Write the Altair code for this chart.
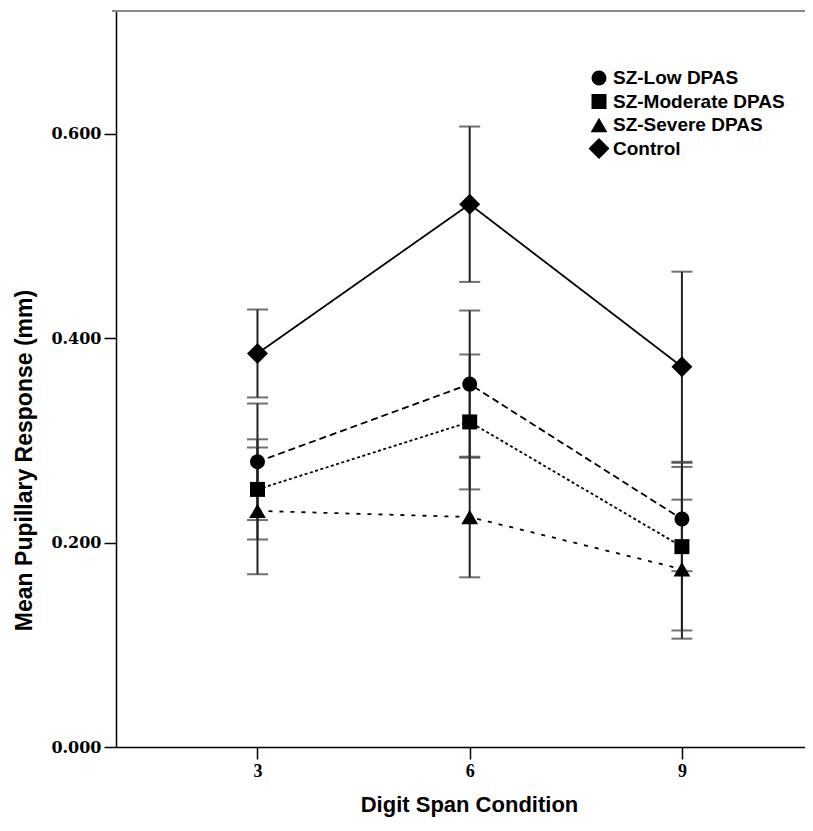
import altair as alt
import pandas as pd

conditions = [3, 6, 9]
groups = ["SZ-Low DPAS", "SZ-Moderate DPAS", "SZ-Severe DPAS", "Control"]

low_mean = [0.279, 0.355, 0.223]
low_err = [0.057, 0.072, 0.051]
mod_mean = [0.252, 0.318, 0.196]
mod_err = [0.049, 0.066, 0.082]
sev_mean = [0.231, 0.225, 0.174]
sev_err = [0.062, 0.059, 0.068]
ctl_mean = [0.385, 0.531, 0.372]
ctl_err = [0.043, 0.076, 0.093]

y_ticks = [0.0, 0.2, 0.4, 0.6]
x_ticks = [3, 6, 9]

shapes = ["circle", "square", "triangle-up", "diamond"]
sizes = [225, 225, 280, 440]
dashes = [[7, 4], [3, 2.5], [4, 7], [1, 0]]

rows = []
for g, ms, es in zip(groups, [low_mean, mod_mean, sev_mean, ctl_mean],
                     [low_err, mod_err, sev_err, ctl_err]):
    for c, m, e in zip(conditions, ms, es):
        rows.append({"group": g, "line": g, "cond": c, "mean": m, "lo": m - e, "hi": m + e})
df = pd.DataFrame(rows)
legend_df = pd.DataFrame({"group": groups})

W, H = 689, 737

x_scale = alt.Scale(domain=[1.0, 10.74], nice=False, zero=False)
y_scale = alt.Scale(domain=[0, 0.721], nice=False, zero=False)
shape_scale = alt.Scale(domain=groups, range=shapes)
size_scale = alt.Scale(type="ordinal", domain=groups, range=sizes)

x_axis = alt.Axis(values=x_ticks, title="Digit Span Condition", grid=False,
                  labelFont="Liberation Serif", labelFontWeight="bold", labelFontSize=18,
                  labelColor="black", labelPadding=3, tickSize=12, tickColor="black",
                  tickWidth=1.5, domainColor="black", domainWidth=1.5,
                  titleFont="Liberation Sans", titleFontSize=22, titleFontWeight="bold",
                  titleColor="black", titleX=353, titleY=64, titleBaseline="alphabetic",
                  titleAlign="center")
y_axis = alt.Axis(values=y_ticks, format=".3f", title="Mean Pupillary Response (mm)",
                  grid=False, labelFont="DejaVu Serif", labelFontWeight="bold",
                  labelFontSize=16, labelColor="black", labelPadding=3, tickSize=12,
                  tickColor="black", tickWidth=1.5, domainColor="black", domainWidth=1.5,
                  titleFont="Liberation Sans", titleFontSize=23, titleFontWeight="bold",
                  titleColor="black", titleX=-80, titleY=450, titleAlign="center",
                  titleBaseline="bottom")

base = alt.Chart(df)
X = alt.X("cond:Q", scale=x_scale, axis=x_axis)

lines = base.mark_line(color="black", strokeWidth=1.8).encode(
    x=X,
    y=alt.Y("mean:Q", scale=y_scale, axis=y_axis),
    detail="line:N",
    strokeDash=alt.StrokeDash("line:N", scale=alt.Scale(domain=groups, range=dashes),
                              legend=None),
)

bars = base.mark_rule(color="#222222", strokeWidth=2).encode(
    x=X, y=alt.Y("lo:Q", scale=y_scale, axis=y_axis), y2="hi:Q",
)

caps_lo = base.mark_tick(color="#333333", orient="horizontal", size=21, thickness=2).encode(
    x=X, y=alt.Y("lo:Q", scale=y_scale, axis=y_axis),
)
caps_hi = base.mark_tick(color="#333333", orient="horizontal", size=21, thickness=2).encode(
    x=X, y=alt.Y("hi:Q", scale=y_scale, axis=y_axis),
)

points = base.mark_point(filled=True, color="black", opacity=1).encode(
    x=X,
    y=alt.Y("mean:Q", scale=y_scale, axis=y_axis),
    shape=alt.Shape("group:N", scale=shape_scale, legend=None),
    size=alt.Size("group:N", scale=size_scale, legend=None),
)

top_line = alt.Chart(pd.DataFrame({"k": [0]})).mark_rule(color="#888888", strokeWidth=2).encode(
    x=alt.value(-4), x2=alt.value(W), y=alt.value(1)
)

main = alt.layer(lines, bars, caps_lo, caps_hi, points)

# legend (symbols + labels) positioned with a point scale of its own
leg_y = alt.Y("group:N", scale=alt.Scale(domain=groups, range=[68, 138.5], padding=0),
              axis=None)
leg_sym = alt.Chart(legend_df).mark_point(filled=True, color="black", opacity=1).encode(
    x=alt.value(483), y=leg_y,
    shape=alt.Shape("group:N", scale=shape_scale, legend=None),
    size=alt.Size("group:N", scale=size_scale, legend=None),
)
leg_txt = alt.Chart(legend_df).mark_text(
    align="left", baseline="middle", font="Liberation Sans", fontSize=19,
    fontWeight="bold", color="black"
).encode(x=alt.value(497), y=leg_y, text="group:N")
leg = alt.layer(leg_sym, leg_txt)

chart = alt.layer(main, leg, top_line).resolve_scale(y="independent").properties(
    width=W, height=H,
    autosize=alt.AutoSizeParams(type="none"),
    padding={"left": 108, "top": 2, "right": 0, "bottom": 70},
).configure_view(stroke=None).configure(background="white")

chart.save("out.html", embed_options={"renderer": "svg", "actions": False})
